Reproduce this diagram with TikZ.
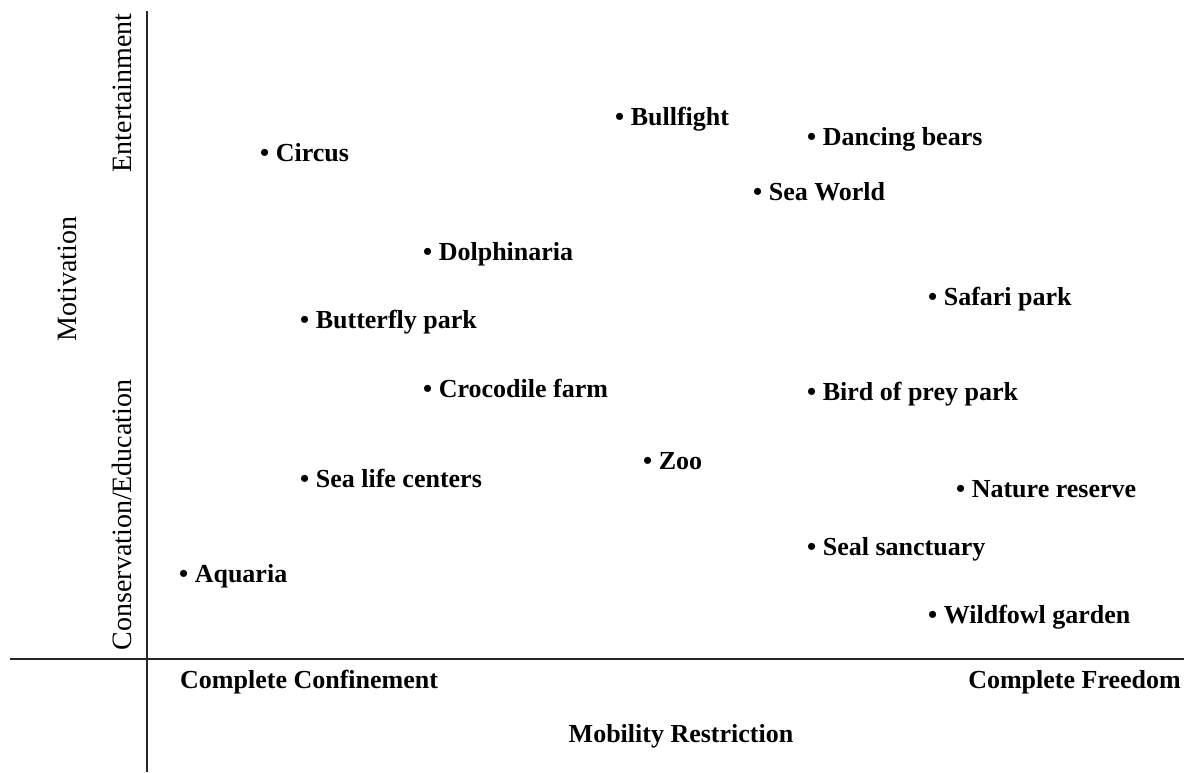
\documentclass[tikz,border=0pt]{standalone}
\usepackage{fontspec}
\setmainfont{Liberation Serif}
\begin{document}
\begin{tikzpicture}[x=1pt,y=-1pt,
  item/.style={anchor=base west,inner sep=0pt,font=\fontsize{26}{30}\selectfont\bfseries},
  axlab/.style={inner sep=0pt,font=\fontsize{28}{30}\selectfont,rotate=90},
  endlab/.style={anchor=base west,inner sep=0pt,font=\fontsize{26}{30}\selectfont\bfseries},
  axis/.style={line width=1.8pt,draw=black!85}]
\useasboundingbox (0,0) rectangle (1184,772);
% axes
\coordinate (vtop) at (147,11);
\coordinate (vbot) at (147,772);
\coordinate (hl) at (10,659);
\coordinate (hr) at (1184,659);
\draw[axis] (vtop) -- (vbot);
\draw[axis] (hl) -- (hr);
% axis labels
\node[axlab] (ent) at (122,93) {Entertainment};
\node[axlab] (mot) at (67,279) {Motivation};
\node[axlab] (cons) at (122,515) {Conservation/Education};
\node[endlab] (conf) at (180,688) {Complete Confinement};
\node[endlab,anchor=base east] (free) at (1181,688) {Complete Freedom};
\node[endlab,anchor=base] (mob) at (681,742) {Mobility Restriction};
% items
\node[item] (circus) at (260,161) {\textbullet\ Circus};
\node[item] (bull) at (615,125) {\textbullet\ Bullfight};
\node[item] (bears) at (807,145) {\textbullet\ Dancing bears};
\node[item] (seaworld) at (753,200) {\textbullet\ Sea World};
\node[item] (dolph) at (423,260) {\textbullet\ Dolphinaria};
\node[item] (safari) at (928,305) {\textbullet\ Safari park};
\node[item] (butter) at (300,328) {\textbullet\ Butterfly park};
\node[item] (croc) at (423,397) {\textbullet\ Crocodile farm};
\node[item] (bird) at (807,400) {\textbullet\ Bird of prey park};
\node[item] (zoo) at (643,469) {\textbullet\ Zoo};
\node[item] (sealife) at (300,487) {\textbullet\ Sea life centers};
\node[item] (nature) at (956,497) {\textbullet\ Nature reserve};
\node[item] (seal) at (807,555) {\textbullet\ Seal sanctuary};
\node[item] (aquaria) at (179,582) {\textbullet\ Aquaria};
\node[item] (wild) at (928,623) {\textbullet\ Wildfowl garden};
\end{tikzpicture}
\end{document}
